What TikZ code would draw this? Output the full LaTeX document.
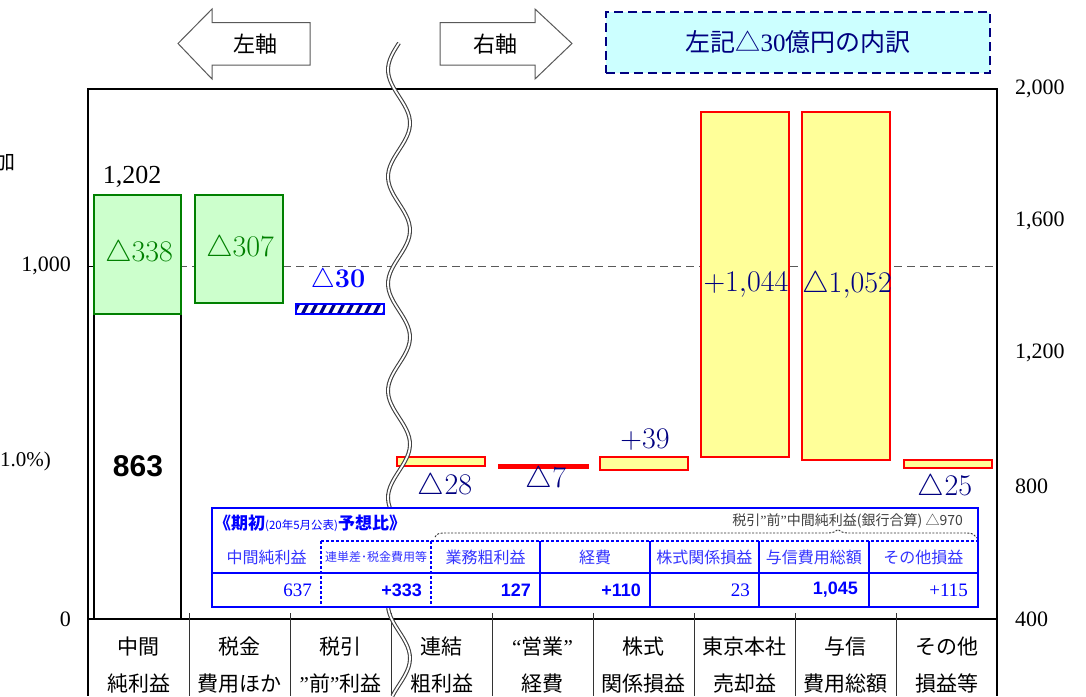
\RequirePackage{fix-cm}
\documentclass[tikz,border=0pt]{standalone}
\usepackage{fontspec}
\newfontfamily\cjk{Noto Sans CJK JP}
\newfontfamily\tms{Liberation Serif}
\newfontfamily\arl{Liberation Sans}
\newcommand\fsz[1]{\fontsize{#1}{#1}\selectfont}
\definecolor{gfill}{HTML}{CCFFCC}
\definecolor{gline}{HTML}{008000}
\definecolor{yfill}{HTML}{FFFF99}
\definecolor{navy}{HTML}{000080}
\definecolor{cfill}{HTML}{CCFFFF}
\definecolor{tblue}{HTML}{0000FF}
\definecolor{lblue}{HTML}{3333FF}
\definecolor{wavec}{HTML}{404040}
\tikzset{
  gbar/.style={draw=gline, fill=gfill, line width=2pt},
  ybar/.style={draw=red, fill=yfill, line width=2pt},
  kbar/.style={draw=black, line width=2pt},
  catlab/.style={font=\cjk\fontsize{21}{37}\selectfont, align=center, inner sep=0},
  axlab/.style={font=\tms\fsz{22}, inner sep=0},
  glab/.style={text=gline, font=\fsz{30}, inner sep=0},
  nlab/.style={text=navy, font=\fsz{30}, inner sep=0},
  blab/.style={text=tblue, font=\bfseries\fsz{27}, inner sep=0},
  arrowbox/.style={draw=gray!70!black, fill=white, line width=1pt},
  tline/.style={draw=tblue, line width=2pt},
  tdash/.style={draw=tblue, line width=2pt, dash pattern=on 3pt off 2pt},
  thead/.style={text=lblue, font=\cjk\fsz{16}, inner sep=0},
  tvalr/.style={text=tblue, font=\tms\fsz{19}, inner sep=0, anchor=east},
  tvalb/.style={text=tblue, font=\arl\bfseries\fsz{18}, inner sep=0, anchor=east},
}
\begin{document}
\begin{tikzpicture}[x=1pt,y=-1pt]
\useasboundingbox (0,0) rectangle (1086,696);
\fill[white] (0,0) rectangle (1086,696);

% clipped texts at left edge
\node[anchor=west, font=\cjk\fsz{21}, inner sep=0] (kan) at (-6,162) {加};
\node[anchor=west, font=\tms\fsz{21}, inner sep=0] (pct) at (0,461) {1.0\%)};

% top arrows
\draw[arrowbox] (178,43.5) -- (212,9) -- (212,22.5) -- (310,22.5) -- (310,65) -- (212,65) -- (212,79) -- cycle;
\node[font=\cjk\fsz{22}, inner sep=0] (lax) at (255,44) {左軸};
\draw[arrowbox] (572,43.5) -- (535,9) -- (535,22.5) -- (440,22.5) -- (440,65) -- (535,65) -- (535,79) -- cycle;
\node[font=\cjk\fsz{22}, inner sep=0] (rax) at (495,44) {右軸};

% title box
\node[draw=navy, fill=cfill, line width=2.6pt, dash pattern=on 9pt off 5pt,
      minimum width=384pt, minimum height=61pt, text=navy, font=\cjk\fsz{25}] (title) at (798,42.5)
      {左記△{\tms 30}億円の内訳};

% dashed 1000 line
\draw[gray!70!black, dash pattern=on 8pt off 5pt, line width=0.9pt] (88,266) -- (997,266);
\draw[line width=1pt] (88,266) -- (94,266);

% frame
\draw[line width=1.1pt] (88,89) rectangle (997,619);
\draw[line width=1.1pt] (88,619) -- (88,696);
\draw[line width=1.1pt] (997,619) -- (997,696);
\foreach \k in {1,...,8} \draw[line width=1pt, gray!40!black] ({88+101*\k},613) -- ({88+101*\k},696);

% axis labels
\node[axlab, anchor=east] (l1000) at (71,266) {1,000};
\node[axlab, anchor=east] (l0) at (71,619) {0};
\node[axlab, anchor=west] (r2000) at (1015,89) {2,000};
\node[axlab, anchor=west] (r1600) at (1015,221) {1,600};
\node[axlab, anchor=west] (r1200) at (1015,353) {1,200};
\node[axlab, anchor=west] (r800) at (1015,486) {800};
\node[axlab, anchor=west] (r400) at (1015,619) {400};

% left bars
\draw[kbar] (94,314) rectangle (181,619);
\draw[gbar] (94,195) rectangle (181,314);
\draw[gbar] (195,195) rectangle (283,303);
\fill[white] (296,304) rectangle (384,314);
\begin{scope}
  \clip (296,304) rectangle (384,314);
  \foreach \i in {0,...,11} \draw[navy, line width=3.2pt] ({292+\i*9},317) -- ({300+\i*9},301);
\end{scope}
\draw[tblue, line width=1.8pt] (296,304) rectangle (384,314);

% right bars
\draw[ybar] (397,457) rectangle (485,466);
\draw[draw=red, fill=red, line width=1pt] (498,464) rectangle (588,468.5);
\draw[ybar] (600,457) rectangle (688,470);
\draw[ybar] (701,112) rectangle (789,457);
\draw[ybar] (802,112) rectangle (890,460);
\draw[ybar] (904,460) rectangle (992,468);

% bar labels
\node[font=\tms\fsz{26}, inner sep=0] (v1202) at (132,177) {1,202};
\node[glab] (v338) at (139,254) {$\triangle338$};
\node[glab] (v307) at (240,249) {$\triangle307$};
\node[blab] (v30) at (338,281) {$\triangle$30};
\node[font=\arl\bfseries\fsz{30}, inner sep=0] (v863) at (138,466) {863};
\node[nlab] (v28) at (445,487) {$\triangle28$};
\node[nlab] (v7) at (546,480) {$\triangle7$};
\node[nlab] (v39) at (645,440) {$+39$};
\node[nlab] (v1044) at (746,285) {$+1{,}044$};
\node[nlab] (v1052) at (847,285) {$\triangle1{,}052$};
\node[nlab] (v25) at (945,488) {$\triangle25$};

% category labels
\node[catlab] (c1) at (138.5,665.5) {中間\\純利益};
\node[catlab] (c2) at (239.5,665.5) {税金\\費用ほか};
\node[catlab] (c3) at (340.5,665.5) {税引\\{\tms ”}前{\tms ”}利益};
\node[catlab] (c4) at (441.5,665.5) {連結\\粗利益};
\node[catlab] (c5) at (542.5,665.5) {{\tms “}営業{\tms ”}\\経費};
\node[catlab] (c6) at (643.5,665.5) {株式\\関係損益};
\node[catlab] (c7) at (744.5,665.5) {東京本社\\売却益};
\node[catlab] (c8) at (845.5,665.5) {与信\\費用総額};
\node[catlab] (c9) at (946.5,665.5) {その他\\損益等};

% wavy break
\draw[wavec, line width=4pt] plot[domain=43:696, samples=160] ({399-11*sin(3.36449*(\x-43))}, \x);
\draw[white, line width=1.8pt] plot[domain=43:696, samples=160] ({399-11*sin(3.36449*(\x-43))}, \x);

% table
\draw[fill=white, draw=tblue, line width=2.5pt] (212,508) rectangle (978,607);
\draw[tline] (212,573) -- (978,573);
\draw[tdash] (321,541) -- (978,541);
\draw[tdash] (321,541) -- (321,607);
\draw[tdash] (431,541) -- (431,607);
\foreach \xx in {540.3,649.7,759,868.6} \draw[tline] (\xx,541) -- (\xx,607);
\draw[tblue, line width=2.5pt] (212,508) rectangle (978,607);
\draw[gray!40!black, line width=0.9pt, dash pattern=on 2pt off 1.5pt]
  (435,537) .. controls (437,533) and (440,533) .. (447,533) -- (828,533)
  .. controls (834,533) and (836,531) .. (838,529.5)
  .. controls (840,531) and (842,533) .. (848,533) -- (967,533)
  .. controls (973,533) and (975,535) .. (977,538);
\node[anchor=west, text=tblue, font=\cjk\bfseries\fsz{17}, inner sep=0] (thd) at (214,523)
  {《期初{\mdseries\fsz{11.5}(20年5月公表)}予想比》};
\node[anchor=east, text=black!75, font=\cjk\fsz{14}, inner sep=0] (tnote) at (963,521)
  {税引{\tms ”}前{\tms ”}中間純利益(銀行合算) △970};
\node[thead] (h1) at (266.7,557) {中間純利益};
\node[thead, font=\cjk\fsz{12}] (h2) at (376.1,557) {連単差･税金費用等};
\node[thead] (h3) at (485.6,557) {業務粗利益};
\node[thead] (h4) at (595,557) {経費};
\node[thead] (h5) at (704.4,557) {株式関係損益};
\node[thead] (h6) at (813.9,557) {与信費用総額};
\node[thead] (h7) at (923.3,557) {その他損益};
\node[tvalr] (d1) at (312,590) {637};
\node[tvalb] (d2) at (422,590) {+333};
\node[tvalb] (d3) at (531,590) {127};
\node[tvalb] (d4) at (641,590) {+110};
\node[tvalr] (d5) at (750,590) {23};
\node[tvalb] (d6) at (858,590) {1,045};
\node[tvalr] (d7) at (968,590) {+115};
\end{tikzpicture}
\end{document}
